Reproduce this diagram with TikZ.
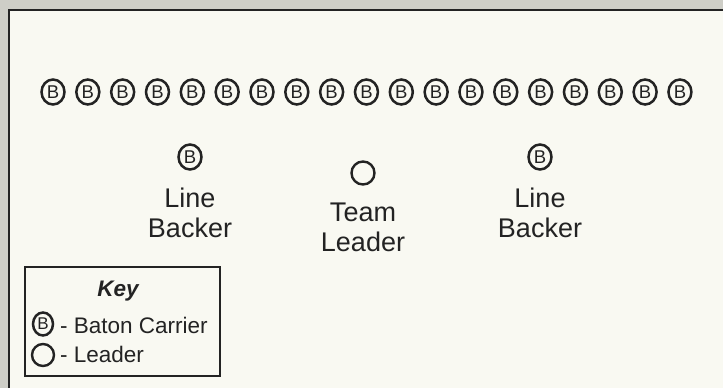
\documentclass[tikz,border=0pt]{standalone}
\usepackage{fontspec}
\setmainfont{Liberation Sans}
\usetikzlibrary{positioning,shapes.geometric}

\definecolor{pagegray}{RGB}{206,206,199}
\definecolor{panel}{RGB}{249,249,242}
\definecolor{ink}{RGB}{35,35,35}

\tikzset{
  carrier/.style={ellipse, draw=ink, line width=2.5pt, minimum width=23pt,
    minimum height=25pt, inner sep=0pt, text=ink,
    font=\fontsize{18.5}{18.5}\selectfont},
  leader/.style={circle, draw=ink, line width=2.4pt, minimum size=23pt, inner sep=0pt},
  role/.style={align=center, text=ink, inner sep=0pt,
    font=\fontsize{27}{30}\selectfont},
  keytext/.style={anchor=base west, text=ink, inner sep=0pt,
    font=\fontsize{22.5}{26}\selectfont}
}

\begin{document}
\begin{tikzpicture}[x=1pt, y=-1pt]
    \useasboundingbox (0,0) rectangle (723,388);

    % Page and panel
    \fill[pagegray] (0,0) rectangle (723,388);
    \fill[panel] (9,10) rectangle (723,388);
    \draw[ink, line width=2pt] (9,388) |- (723,10);

    % Row of baton carriers
    \foreach \i in {1,...,19}
        \node[carrier] (b\i) at ({53+(\i-1)*34.83}, 92) {B};

    % Line backers and team leader
    \node[carrier] (lbl) at (190, 157) {B};
    \node[role, below=17pt of lbl] (lbltext) {Line\\Backer};

    \node[leader] (tl) at (363, 173) {};
    \node[role, below=17pt of tl] (tltext) {Team\\Leader};

    \node[carrier] (lbr) at (540, 157) {B};
    \node[role, below=17pt of lbr] (lbrtext) {Line\\Backer};

    % Key
    \draw[ink, line width=1.8pt] (25,267) rectangle (220,376);
    \node[text=ink, anchor=base, inner sep=0pt,
          font=\fontsize{22.5}{26}\selectfont\bfseries\itshape] (keytitle) at (118, 296) {Key};

    \node[carrier, minimum width=20pt, minimum height=23pt,
          font=\fontsize{17}{17}\selectfont] (keyb) at (43, 324) {B};
    \node[keytext] (keybtext) at (60, 333) {- Baton Carrier};

    \node[leader, minimum size=22pt] (keyl) at (43, 355) {};
    \node[keytext] (keyltext) at (60, 362) {- Leader};
\end{tikzpicture}
\end{document}
